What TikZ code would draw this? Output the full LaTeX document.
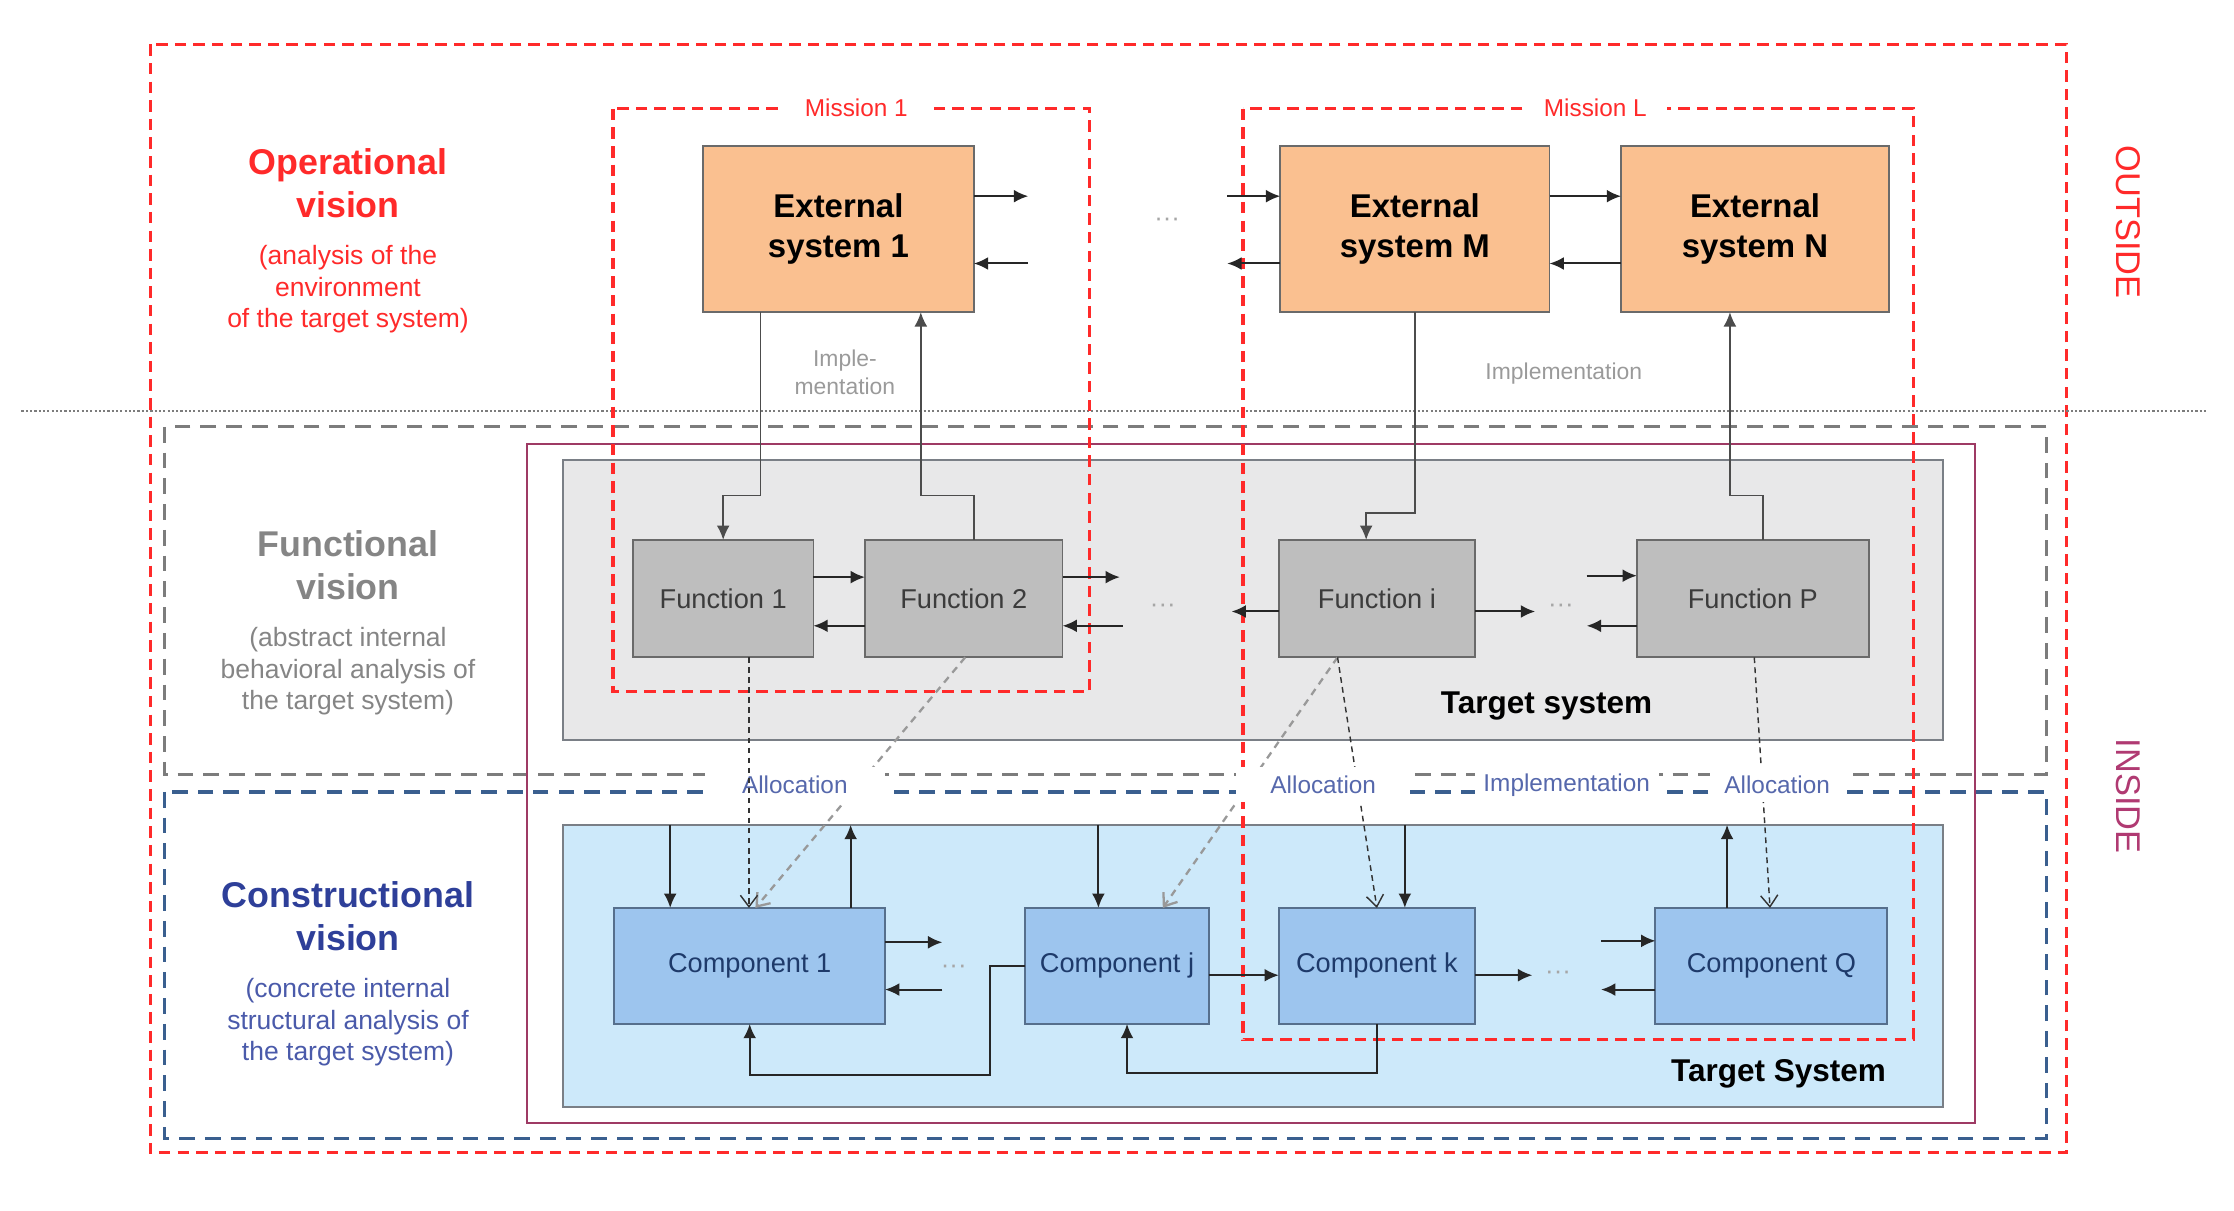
\documentclass[tikz,border=0pt]{standalone}
\usepackage{fontspec}
\setmainfont{Liberation Sans}
\usetikzlibrary{arrows.meta}

\definecolor{opred}{HTML}{FF2A2A}
\definecolor{esfill}{HTML}{FAC090}
\definecolor{fnfill}{HTML}{BEBEBE}
\definecolor{fntext}{HTML}{3C3C3C}
\definecolor{tsgray}{HTML}{E8E8E9}
\definecolor{tsblue}{HTML}{CDE9FA}
\definecolor{cpfill}{HTML}{9DC5EE}
\definecolor{cptext}{HTML}{1E3A6A}
\definecolor{cpborder}{HTML}{566F8C}
\definecolor{bordergray}{HTML}{6A6A6A}
\definecolor{tsborder}{HTML}{7A7F86}
\definecolor{tgtmaroon}{HTML}{9E3A64}
\definecolor{insidecol}{HTML}{B03A72}
\definecolor{fvgray}{HTML}{858585}
\definecolor{cvblue}{HTML}{2E3F99}
\definecolor{cvsub}{HTML}{4A5AAA}
\definecolor{sepgray}{HTML}{7C7C7C}
\definecolor{sepblue}{HTML}{3A5F8F}
\definecolor{alloccol}{HTML}{5668AC}
\definecolor{impgray}{HTML}{9A9A9A}

\newcommand\txtsize[2]{\fontsize{#1}{#2}\selectfont}

\begin{document}
\begin{tikzpicture}[x=1pt,y=-1pt,
	esys/.style={draw=bordergray,line width=1.2pt,fill=esfill,inner sep=0pt,outer sep=0pt,minimum height=116pt,align=center,font=\txtsize{23}{28}\bfseries},
	fnbox/.style={draw=bordergray,line width=1.2pt,fill=fnfill,inner sep=0pt,outer sep=0pt,minimum height=82pt,text=fntext,font=\txtsize{19}{23}},
	cpbox/.style={draw=cpborder,line width=1.4pt,fill=cpfill,inner sep=0pt,outer sep=0pt,minimum height=81pt,text=cptext,font=\txtsize{19}{23}},
	tsbox/.style={draw=tsborder,line width=1.4pt,inner sep=0pt,outer sep=0pt,minimum width=964pt},
	arr/.style={-{Latex[length=10pt,width=9pt]},line width=1.4pt,black!85},
	impl/.style={-{Latex[length=10pt,width=9pt]},line width=1.2pt,black!70},
	alloc/.style={-{Straight Barb[length=8pt,width=12pt]},line width=1pt,black!80,dash pattern=on 4pt off 3pt},
	allocgray/.style={-{Straight Barb[length=8pt,width=12pt]},line width=1.6pt,gray!80,dash pattern=on 5pt off 4pt},
	reddash/.style={draw=opred,line width=2.2pt,dash pattern=on 8pt off 5pt},
	graydash/.style={draw=sepgray,line width=2.4pt,dash pattern=on 11pt off 7pt},
	bluedash/.style={draw=sepblue,line width=2.4pt,dash pattern=on 11pt off 7pt},
	lbl/.style={fill=white,text=alloccol,font=\txtsize{17}{20},inner ysep=6pt},
	dots/.style={text=gray!70,font=\txtsize{18}{20}},
	vtitle/.style={align=center,font=\txtsize{25}{30}\bfseries},
	vsub/.style={align=center,font=\txtsize{18.5}{22}}]

	\useasboundingbox (0,0) rectangle (1560,845);

	% vision areas
	\draw[reddash] (105,31) rectangle (1443,805);
	\draw[sepgray,line width=1.5pt,dash pattern=on 1.5pt off 1.5pt] (15,287) -- (1541,287);
	\draw[graydash] (115,298) rectangle (1429,541);
	\draw[bluedash] (115,553) rectangle (1429,795);
	\draw[tgtmaroon,line width=1.6pt] (368,310) rectangle (1379,784);

	\node[tsbox,fill=tsgray,minimum height=196pt] (tsF) at (875,419) {};
	\node[tsbox,fill=tsblue,minimum height=197pt] (tsC) at (875,674.5) {};
	\node[font=\txtsize{22}{26}\bfseries] (tsFlab) at (1080,493) {Target system};
	\node[font=\txtsize{22}{26}\bfseries] (tsClab) at (1242,750) {Target System};

	% left titles
	\node[vtitle,text=opred] (opv) at (243,128) {Operational\\vision};
	\node[vsub,text=opred] (opvsub) at (243,202) {(analysis of the\\environment\\of the target system)};
	\node[vtitle,text=fvgray] (fnv) at (243,395) {Functional\\vision};
	\node[vsub,text=fvgray] (fnvsub) at (243,469) {(abstract internal\\behavioral analysis of\\the target system)};
	\node[vtitle,text=cvblue] (cnv) at (243,640) {Constructional\\vision};
	\node[vsub,text=cvsub] (cnvsub) at (243,714) {(concrete internal\\structural analysis of\\the target system)};
	\node[rotate=-90,text=opred,font=\txtsize{24}{28}] (outs) at (1486,155) {OUTSIDE};
	\node[rotate=-90,text=insidecol,font=\txtsize{24}{28}] (ins) at (1486,556) {INSIDE};

	% external systems
	\node[esys,minimum width=189pt] (es1) at (585.5,160) {External\\system 1};
	\node[esys,minimum width=188pt] (esM) at (988,160) {External\\system M};
	\node[esys,minimum width=187pt] (esN) at (1225.5,160) {External\\system N};
	\node[dots] (dtE) at (815,155) {···};

	% functions
	\node[fnbox,minimum width=126pt] (f1) at (505,418) {Function 1};
	\node[fnbox,minimum width=138pt] (f2) at (673,418) {Function 2};
	\node[fnbox,minimum width=137pt] (fi) at (961.5,418) {Function i};
	\node[fnbox,minimum width=162pt] (fP) at (1224,418) {Function P};
	\node[dots] (dtF1) at (812,425) {···};
	\node[dots] (dtF2) at (1090,425) {···};

	% components
	\node[cpbox,minimum width=189pt] (c1) at (523.5,674.5) {Component 1};
	\node[cpbox,minimum width=128pt] (cj) at (780,674.5) {Component j};
	\node[cpbox,minimum width=137pt] (ck) at (961.5,674.5) {Component k};
	\node[cpbox,minimum width=162pt] (cQ) at (1237,674.5) {Component Q};
	\node[dots] (dtC1) at (666,677) {···};
	\node[dots] (dtC2) at (1088,681) {···};

	% missions
	\draw[reddash] (428,76) rectangle (761,483);
	\draw[reddash] (868,76) rectangle (1336,726);
	\node[fill=white,text=opred,font=\txtsize{17}{20},inner xsep=18pt] (mis1) at (598,75) {Mission 1};
	\node[fill=white,text=opred,font=\txtsize{17}{20},inner xsep=14pt] (misL) at (1114,75) {Mission L};

	% exchanges between external systems
	\coordinate (e1o) at (718,137);
	\coordinate (e1i) at (718,184);
	\coordinate (eMi) at (857,137);
	\coordinate (eMo) at (857,184);
	\draw[arr] ([yshift=23pt]es1.east) -- (e1o);
	\draw[arr] (e1i) -- ([yshift=-24pt]es1.east);
	\draw[arr] (eMi) -- ([yshift=23pt]esM.west);
	\draw[arr] ([yshift=-24pt]esM.west) -- (eMo);
	\draw[arr] ([yshift=23pt]esM.east) -- ([yshift=23pt]esN.west);
	\draw[arr] ([yshift=-24pt]esN.west) -- ([yshift=-24pt]esM.east);

	% implementation links
	\coordinate (k1) at (505,346);
	\coordinate (k2) at (643,346);
	\coordinate (k3) at (954,358);
	\coordinate (k4) at (1208,346);
	\draw[impl] ([xshift=-54.5pt]es1.south) |- (k1) -- (f1.north -| k1);
	\draw[impl] ([xshift=7pt]f2.north) |- (k2) -- (es1.south -| k2);
	\draw[impl] (esM.south) |- (k3) -- (fi.north -| k3);
	\draw[impl] ([xshift=7pt]fP.north) |- (k4) -- (esN.south -| k4);
	\node[text=impgray,align=center,font=\txtsize{16}{20}] (imp1) at (590,260) {Imple-\\mentation};
	\node[text=impgray,font=\txtsize{16}{20}] (imp2) at (1092,261) {Implementation};

	% exchanges between functions
	\coordinate (f2o) at (782,403);
	\coordinate (f2i) at (784,437);
	\coordinate (fio) at (860,427);
	\coordinate (fir) at (1072,427);
	\coordinate (fPi) at (1108,402);
	\coordinate (fPo) at (1108,437);
	\draw[arr] ([yshift=15pt]f1.east) -- ([yshift=15pt]f2.west);
	\draw[arr] ([yshift=-19pt]f2.west) -- ([yshift=-19pt]f1.east);
	\draw[arr] ([yshift=15pt]f2.east) -- (f2o);
	\draw[arr] (f2i) -- ([yshift=-19pt]f2.east);
	\draw[arr] ([yshift=-9pt]fi.west) -- (fio);
	\draw[arr] ([yshift=-9pt]fi.east) -- (fir);
	\draw[arr] (fPi) -- ([yshift=16pt]fP.west);
	\draw[arr] ([yshift=-19pt]fP.west) -- (fPo);

	% exchanges between components
	\coordinate (c1o) at (658,658);
	\coordinate (c1i) at (658,691);
	\coordinate (cko) at (1070,681);
	\coordinate (cQi) at (1118,657);
	\coordinate (cQo) at (1118,691);
	\coordinate (k5) at (691,751);
	\coordinate (k6) at (787,749);
	\draw[arr] ([yshift=16.5pt]c1.east) -- (c1o);
	\draw[arr] (c1i) -- ([yshift=-16.5pt]c1.east);
	\draw[arr] (cj.west) -| (k5) -| (c1.south);
	\draw[arr] ([yshift=-6.5pt]cj.east) -- ([yshift=-6.5pt]ck.west);
	\draw[arr] ([yshift=-6.5pt]ck.east) -- (cko);
	\draw[arr] (ck.south) |- (k6) -- (cj.south -| k6);
	\draw[arr] (cQi) -- ([yshift=17.5pt]cQ.west);
	\draw[arr] ([yshift=-16.5pt]cQ.west) -- (cQo);

	% links with the target system boundary
	\coordinate (x1) at (468,0);
	\coordinate (x2) at (594,0);
	\coordinate (x3) at (767,0);
	\coordinate (x4) at (981,0);
	\coordinate (x5) at (1206,0);
	\draw[arr] (tsC.north -| x1) -- (c1.north -| x1);
	\draw[arr] (c1.north -| x2) -- (tsC.north -| x2);
	\draw[arr] (tsC.north -| x3) -- (cj.north -| x3);
	\draw[arr] (tsC.north -| x4) -- (ck.north -| x4);
	\draw[arr] (cQ.north -| x5) -- (tsC.north -| x5);

	% allocations
	\coordinate (x6) at (523,0);
	\draw[allocgray] ([xshift=1pt]f2.south) -- ([xshift=4pt]c1.north);
	\draw[allocgray] ([xshift=-27.5pt]fi.south) -- ([xshift=32pt]cj.north);
	\draw[alloc] ([xshift=-27.5pt]fi.south) -- (ck.north);
	\draw[alloc] ([xshift=1pt]fP.south) -- ([xshift=-1pt]cQ.north);
	\node[lbl,inner xsep=26pt] (al1) at (555,548) {Allocation};
	\node[lbl,inner xsep=24pt] (al2) at (924,548) {Allocation};
	\node[lbl,inner xsep=6pt] (imp3) at (1094,548) {Implementation};
	\node[lbl,inner xsep=10pt] (al3) at (1241,548) {Allocation};
	\draw[alloc] (f1.south -| x6) -- (c1.north -| x6);

\end{tikzpicture}
\end{document}
